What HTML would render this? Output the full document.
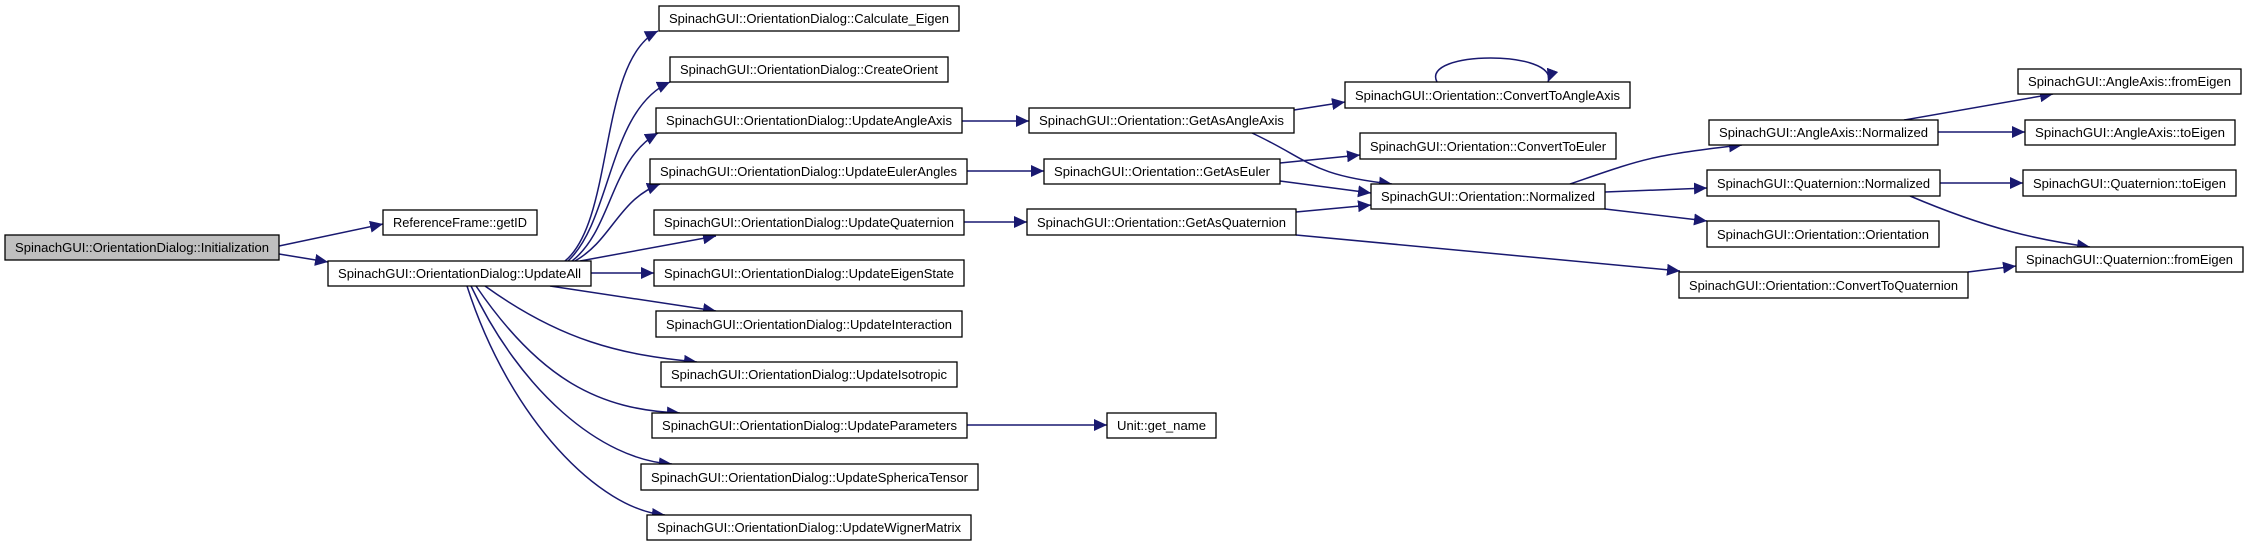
<!DOCTYPE html>
<html><head><meta charset="utf-8"><style>
html,body{margin:0;padding:0;background:#fff;}
svg{display:block;}
text{font-family:"Liberation Sans",Arial,sans-serif;font-size:13px;fill:#000;}
.n{fill:#fff;stroke:#000;stroke-width:1.3;}
.e{fill:none;stroke:#191970;stroke-width:1.5;marker-end:url(#a);}
</style></head><body>
<svg width="2256" height="544" viewBox="0 0 2256 544" xmlns="http://www.w3.org/2000/svg">
<defs><marker id="a" markerUnits="userSpaceOnUse" markerWidth="14" markerHeight="12" refX="13" refY="6" orient="auto"><path d="M0,0 L13,6 L0,12 Z" fill="#191970"/></marker></defs>
<!-- edges -->
<path class="e" d="M279,246 L383,224"/>
<path class="e" d="M279,254 L328,262"/>
<path class="e" d="M565,261 C615,220 598,60 658,31"/>
<path class="e" d="M568,261 C612,220 608,110 670,82"/>
<path class="e" d="M572,261 C612,230 610,160 658,133"/>
<path class="e" d="M575,261 C612,240 618,200 660,184"/>
<path class="e" d="M580,261 L716,236"/>
<path class="e" d="M591,273 L654,273"/>
<path class="e" d="M550,286 L716,311"/>
<path class="e" d="M485,286 C560,340 620,355 697,362"/>
<path class="e" d="M476,286 C540,380 600,410 680,413"/>
<path class="e" d="M471,286 C520,390 600,460 672,464"/>
<path class="e" d="M467,286 C510,420 600,510 665,515"/>
<path class="e" d="M962,121 L1029,121"/>
<path class="e" d="M967,171 L1044,171"/>
<path class="e" d="M964,222 L1027,222"/>
<path class="e" d="M967,425 L1107,425"/>
<path class="e" d="M1294,110 L1345,102"/>
<path class="e" d="M1252,133 C1310,160 1310,175 1392,184"/>
<path class="e" d="M1280,163 L1360,155"/>
<path class="e" d="M1280,181 L1371,193"/>
<path class="e" d="M1296,212 L1371,205"/>
<path class="e" d="M1296,235 L1680,271"/>
<path class="e" d="M1437,82 C1420,50 1560,50 1548,82"/>
<path class="e" d="M1570,184 C1640,160 1650,155 1742,145"/>
<path class="e" d="M1605,192 L1707,188"/>
<path class="e" d="M1605,209 L1707,221"/>
<path class="e" d="M1968,272 L2016,266"/>
<path class="e" d="M1904,120 L2053,94"/>
<path class="e" d="M1938,132 L2025,132"/>
<path class="e" d="M1940,183 L2023,183"/>
<path class="e" d="M1910,196 C1990,230 2040,240 2090,247"/>
<!-- nodes -->
<g>
<rect x="5" y="235" width="274" height="25" style="fill:#bfbfbf;stroke:#000;stroke-width:1.3"/><text x="15" y="252" textLength="254" lengthAdjust="spacingAndGlyphs">SpinachGUI::OrientationDialog::Initialization</text>
<rect class="n" x="383" y="210" width="154" height="25"/><text x="393" y="227" textLength="134" lengthAdjust="spacingAndGlyphs">ReferenceFrame::getID</text>
<rect class="n" x="328" y="261" width="263" height="25"/><text x="338" y="278" textLength="243" lengthAdjust="spacingAndGlyphs">SpinachGUI::OrientationDialog::UpdateAll</text>
<rect class="n" x="659" y="6" width="300" height="25"/><text x="669" y="23" textLength="280" lengthAdjust="spacingAndGlyphs">SpinachGUI::OrientationDialog::Calculate_Eigen</text>
<rect class="n" x="670" y="57" width="278" height="25"/><text x="680" y="74" textLength="258" lengthAdjust="spacingAndGlyphs">SpinachGUI::OrientationDialog::CreateOrient</text>
<rect class="n" x="656" y="108" width="306" height="25"/><text x="666" y="125" textLength="286" lengthAdjust="spacingAndGlyphs">SpinachGUI::OrientationDialog::UpdateAngleAxis</text>
<rect class="n" x="650" y="159" width="317" height="25"/><text x="660" y="176" textLength="297" lengthAdjust="spacingAndGlyphs">SpinachGUI::OrientationDialog::UpdateEulerAngles</text>
<rect class="n" x="654" y="210" width="310" height="25"/><text x="664" y="227" textLength="290" lengthAdjust="spacingAndGlyphs">SpinachGUI::OrientationDialog::UpdateQuaternion</text>
<rect class="n" x="654" y="260" width="310" height="26"/><text x="664" y="278" textLength="290" lengthAdjust="spacingAndGlyphs">SpinachGUI::OrientationDialog::UpdateEigenState</text>
<rect class="n" x="656" y="311" width="306" height="26"/><text x="666" y="329" textLength="286" lengthAdjust="spacingAndGlyphs">SpinachGUI::OrientationDialog::UpdateInteraction</text>
<rect class="n" x="661" y="362" width="296" height="25"/><text x="671" y="379" textLength="276" lengthAdjust="spacingAndGlyphs">SpinachGUI::OrientationDialog::UpdateIsotropic</text>
<rect class="n" x="652" y="413" width="315" height="25"/><text x="662" y="430" textLength="295" lengthAdjust="spacingAndGlyphs">SpinachGUI::OrientationDialog::UpdateParameters</text>
<rect class="n" x="641" y="464" width="337" height="26"/><text x="651" y="482" textLength="317" lengthAdjust="spacingAndGlyphs">SpinachGUI::OrientationDialog::UpdateSphericaTensor</text>
<rect class="n" x="647" y="515" width="324" height="25"/><text x="657" y="532" textLength="304" lengthAdjust="spacingAndGlyphs">SpinachGUI::OrientationDialog::UpdateWignerMatrix</text>
<rect class="n" x="1029" y="108" width="265" height="25"/><text x="1039" y="125" textLength="245" lengthAdjust="spacingAndGlyphs">SpinachGUI::Orientation::GetAsAngleAxis</text>
<rect class="n" x="1345" y="82" width="285" height="26"/><text x="1355" y="100" textLength="265" lengthAdjust="spacingAndGlyphs">SpinachGUI::Orientation::ConvertToAngleAxis</text>
<rect class="n" x="1360" y="133" width="256" height="26"/><text x="1370" y="151" textLength="236" lengthAdjust="spacingAndGlyphs">SpinachGUI::Orientation::ConvertToEuler</text>
<rect class="n" x="1044" y="159" width="236" height="25"/><text x="1054" y="176" textLength="216" lengthAdjust="spacingAndGlyphs">SpinachGUI::Orientation::GetAsEuler</text>
<rect class="n" x="1371" y="184" width="234" height="25"/><text x="1381" y="201" textLength="214" lengthAdjust="spacingAndGlyphs">SpinachGUI::Orientation::Normalized</text>
<rect class="n" x="1027" y="209" width="269" height="26"/><text x="1037" y="227" textLength="249" lengthAdjust="spacingAndGlyphs">SpinachGUI::Orientation::GetAsQuaternion</text>
<rect class="n" x="1679" y="272" width="289" height="26"/><text x="1689" y="290" textLength="269" lengthAdjust="spacingAndGlyphs">SpinachGUI::Orientation::ConvertToQuaternion</text>
<rect class="n" x="1709" y="120" width="229" height="25"/><text x="1719" y="137" textLength="209" lengthAdjust="spacingAndGlyphs">SpinachGUI::AngleAxis::Normalized</text>
<rect class="n" x="1707" y="170" width="233" height="26"/><text x="1717" y="188" textLength="213" lengthAdjust="spacingAndGlyphs">SpinachGUI::Quaternion::Normalized</text>
<rect class="n" x="1707" y="221" width="232" height="26"/><text x="1717" y="239" textLength="212" lengthAdjust="spacingAndGlyphs">SpinachGUI::Orientation::Orientation</text>
<rect class="n" x="2018" y="69" width="223" height="25"/><text x="2028" y="86" textLength="203" lengthAdjust="spacingAndGlyphs">SpinachGUI::AngleAxis::fromEigen</text>
<rect class="n" x="2025" y="120" width="210" height="25"/><text x="2035" y="137" textLength="190" lengthAdjust="spacingAndGlyphs">SpinachGUI::AngleAxis::toEigen</text>
<rect class="n" x="2023" y="170" width="213" height="26"/><text x="2033" y="188" textLength="193" lengthAdjust="spacingAndGlyphs">SpinachGUI::Quaternion::toEigen</text>
<rect class="n" x="2016" y="247" width="227" height="25"/><text x="2026" y="264" textLength="207" lengthAdjust="spacingAndGlyphs">SpinachGUI::Quaternion::fromEigen</text>
<rect class="n" x="1107" y="413" width="109" height="25"/><text x="1117" y="430" textLength="89" lengthAdjust="spacingAndGlyphs">Unit::get_name</text>
</g>
</svg>
</body></html>
